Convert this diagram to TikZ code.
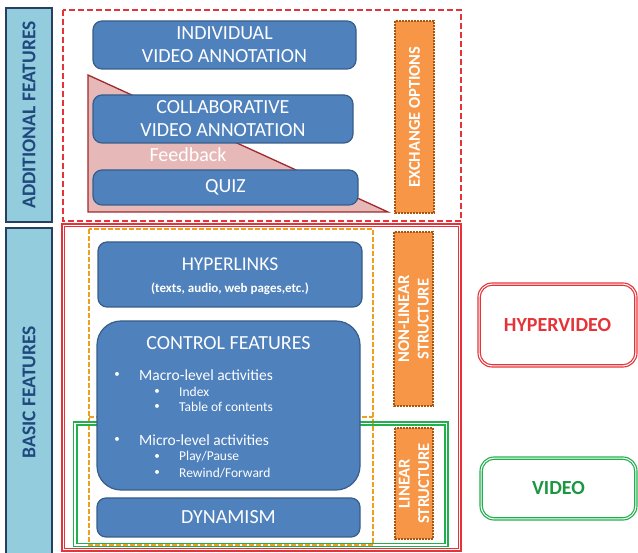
\documentclass[tikz,border=0pt]{standalone}
\usepackage{fontspec}
\setmainfont{Carlito}
\definecolor{blueFill}{HTML}{4F81BD}
\definecolor{blueEdge}{HTML}{385D8A}
\definecolor{tabFill}{HTML}{93CDDD}
\definecolor{tabEdge}{HTML}{254061}
\definecolor{tabText}{HTML}{1F497D}
\definecolor{orFill}{HTML}{F79646}
\definecolor{orEdge}{HTML}{A8560E}
\definecolor{redC}{HTML}{E4343A}
\definecolor{greenC}{HTML}{22B04E}
\definecolor{pinkFill}{HTML}{E6B9B8}
\definecolor{triEdge}{HTML}{A0282C}
\definecolor{orDash}{HTML}{F0A020}
\begin{document}
\begin{tikzpicture}[x=1pt,y=-1pt,
  blk/.style={draw=blueEdge,line width=1.2pt,fill=blueFill,rounded corners=9pt,
    text=white,align=center,inner sep=0pt,font=\fontsize{20}{23}\selectfont},
  tab/.style={draw=tabEdge,line width=1.6pt,fill=tabFill,rotate=90,inner sep=0pt,
    text=tabText,font=\fontsize{19.5}{22}\selectfont\bfseries},
  orbox/.style={draw=orEdge,line width=1.2pt,dash pattern=on 2pt off 1pt,fill=orFill,
    rotate=90,inner sep=0pt,align=center,text=white,font=\fontsize{16.5}{19.5}\selectfont\bfseries},
  itemA/.style={anchor=west,text=white,inner sep=0pt,font=\fontsize{15.5}{17}\selectfont},
  itemB/.style={anchor=west,text=white,inner sep=0pt,font=\fontsize{13.5}{15}\selectfont},
  dot/.style={anchor=center,text=white,inner sep=0pt,font=\fontsize{11}{12}\selectfont},
  thinline/.style={line width=1.1pt},
  legend/.style={rounded corners=14pt,thinline,inner sep=0pt,font=\fontsize{20}{22}\selectfont\bfseries}]
\useasboundingbox (0,0) rectangle (638,553);
\clip (0,0) rectangle (638,553);

% side labels
\node[tab,minimum width=214pt,minimum height=46pt] (addl) at (29,115) {ADDITIONAL FEATURES};
\node[tab,minimum width=328pt,minimum height=46pt] (basic) at (29,392) {BASIC FEATURES};

% frames of the two feature groups
\draw[redC,line width=1.8pt,dash pattern=on 6pt off 3pt] (63,10) rectangle (461,221);
\draw[redC,thinline] (62,224) rectangle (461,551);
\draw[redC,thinline] (64.8,226.8) rectangle (458.2,548.2);
\draw[orDash,line width=1.3pt,dash pattern=on 5pt off 2pt] (89,229) rectangle (373,545);
\draw[orDash,line width=1.8pt,dash pattern=on 5pt off 2pt] (89,417) -- (373,417);
\draw[greenC,thinline] (73.5,422) rectangle (448,546.5);
\draw[greenC,thinline] (77,425) rectangle (445,543.5);

% feedback wedge
\draw[triEdge,line width=1.3pt,fill=pinkFill,line join=miter] (88,75) -- (88,212) -- (388,212) -- cycle;
\node[text=white,inner sep=0pt,font=\fontsize{20}{22}\selectfont] (fb) at (188,155) {Feedback};

% additional features
\node[blk,minimum width=263pt,minimum height=48pt] (indiv) at (224.5,45) {INDIVIDUAL\\VIDEO ANNOTATION};
\node[blk,minimum width=260pt,minimum height=48pt] (collab) at (223,119) {COLLABORATIVE\\VIDEO ANNOTATION};
\node[blk,minimum width=265pt,minimum height=35pt] (quiz) at (225.5,187.5) {QUIZ};
\node[orbox,minimum width=192pt,minimum height=39pt] (exch) at (414.5,117) {EXCHANGE OPTIONS};

% basic features
\node[blk,minimum width=264pt,minimum height=65pt] (hyper) at (230,274.5) {};
\node[text=white,inner sep=0pt,font=\fontsize{19.5}{21}\selectfont] (hypT) at (230,264) {HYPERLINKS};
\node[text=white,inner sep=0pt,font=\fontsize{13}{15}\selectfont\bfseries] (hypS) at (230,289) {(texts, audio, web pages,etc.)};

\node[blk,rounded corners=24pt,minimum width=263pt,minimum height=169pt] (ctrl) at (228.5,405.5) {};
\node[text=white,inner sep=0pt,font=\fontsize{20}{22}\selectfont] (ctrlT) at (228.5,343) {CONTROL FEATURES};
\node[dot] (b1) at (117,375) {\textbullet};
\node[itemA] (macro) at (139,375) {Macro-level activities};
\node[dot] (b2) at (157,392) {\textbullet};
\node[itemB] (idx) at (179,392) {Index};
\node[dot] (b3) at (157,407) {\textbullet};
\node[itemB] (toc) at (179,407) {Table of contents};
\node[dot] (b4) at (117,440) {\textbullet};
\node[itemA] (micro) at (139,440) {Micro-level activities};
\node[dot] (b5) at (157,457) {\textbullet};
\node[itemB] (play) at (179,457) {Play/Pause};
\node[dot] (b6) at (157,473) {\textbullet};
\node[itemB] (rew) at (179,473) {Rewind/Forward};

\node[blk,minimum width=263pt,minimum height=39pt] (dyn) at (228.5,517.5) {DYNAMISM};

\node[orbox,minimum width=174pt,minimum height=39pt] (nonlin) at (413.5,319) {NON-LINEAR\\STRUCTURE};
\node[orbox,minimum width=111pt,minimum height=38pt] (lin) at (414,483.5) {LINEAR\\STRUCTURE};

% legend: two nested outlines each
\node[legend,draw=redC,text=redC,minimum width=159pt,minimum height=84pt] (hv) at (557.5,325) {HYPERVIDEO};
\draw[redC,thinline,rounded corners=12pt] ([shift={(2.8,2.8)}]hv.north west) rectangle ([shift={(-2.8,-2.8)}]hv.south east);
\node[legend,draw=greenC,text=greenC!85!black,minimum width=157pt,minimum height=63pt] (vid) at (558.5,488.5) {VIDEO};
\draw[greenC,thinline,rounded corners=12pt] ([shift={(2.8,2.8)}]vid.north west) rectangle ([shift={(-2.8,-2.8)}]vid.south east);
\end{tikzpicture}
\end{document}
